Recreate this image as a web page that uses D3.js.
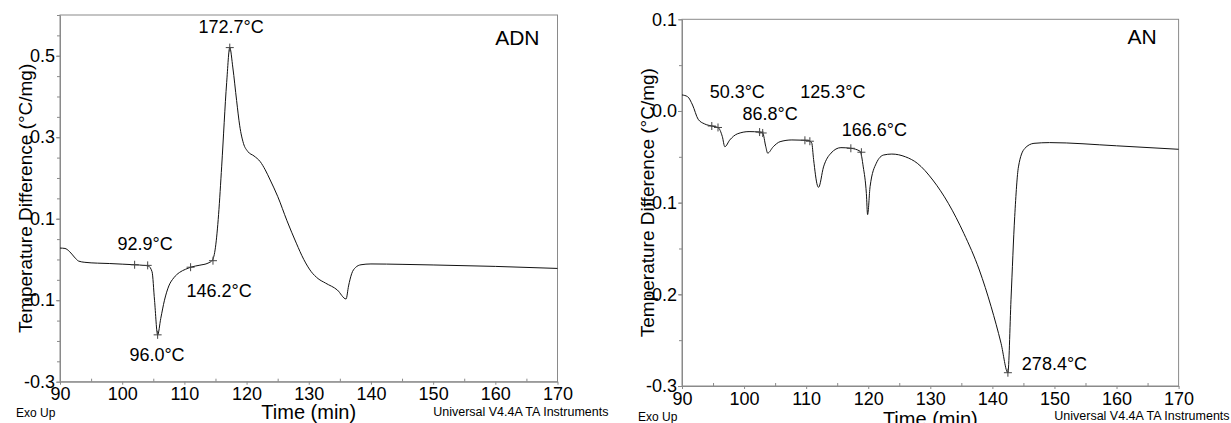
<!DOCTYPE html>
<html>
<head>
<meta charset="utf-8">
<script src="https://cdn.jsdelivr.net/npm/d3@7"></script>
<style>
  body { margin: 0; background: #fff; }
  text { font-family: "Liberation Sans", Arial, sans-serif; fill: #000; }
</style>
</head>
<body>
<script>
// time axis (min)
var timeTicks = [90, 100, 110, 120, 130, 140, 150, 160, 170];
var timeMinor = [95, 105, 115, 125, 135, 145, 155, 165];

// ADN curve
var adnTime = [90, 90.8, 91.5, 92.3, 93, 94, 96, 98, 100, 102, 103.5, 104.2, 104.8, 105.2, 105.7,
  106.2, 106.8, 107.5, 108.3, 109.2, 110.2, 111, 112.5, 113.8, 114.5, 115, 115.5, 116, 116.8, 117.3,
  117.8, 118.4, 118.9, 119.5, 120.2, 121.2, 122.2, 123, 123.8, 125, 126.5, 128, 129.2, 130.4, 131.5,
  132.7, 134.6, 136, 136.4, 136.9, 137.5, 138.4, 140, 145, 150, 160, 170];
var adnDiff = [0.028, 0.027, 0.02, 0.006, -0.004, -0.007, -0.009, -0.010, -0.0115, -0.013, -0.0145, -0.016, -0.030, -0.10, -0.185,
  -0.145, -0.10, -0.065, -0.045, -0.032, -0.024, -0.019, -0.014, -0.009, -0.002, 0.03, 0.11, 0.229, 0.434, 0.52,
  0.47, 0.39, 0.328, 0.285, 0.265, 0.254, 0.24, 0.22, 0.195, 0.155, 0.095, 0.04, 0.0, -0.03, -0.047,
  -0.058, -0.075, -0.097, -0.065, -0.035, -0.02, -0.013, -0.011, -0.012, -0.0135, -0.017, -0.022];
var adnMarkTime = [102, 104.1, 105.7, 111, 114.6, 117.3];
var adnMarkDiff = [-0.013, -0.0145, -0.185, -0.019, -0.003, 0.52];
var adnLabels = ["172.7°C", "92.9°C", "146.2°C", "96.0°C"];
var adnLabelTime = [117.5, 103.7, 115.6, 105.6];
var adnLabelDiff = [0.556, 0.023, -0.092, -0.249];
var adnTicks = [0.5, 0.3, 0.1, -0.1, -0.3];

// AN curve
var anTime = [90, 90.9, 91.7, 92.6, 93.6, 94.8, 95.8, 96.5, 96.9, 97.7, 98.9, 100.8, 102.5, 103, 103.5,
  103.8, 104.7, 105.8, 107.7, 110.3, 110.9, 111.2, 111.8, 112, 112.8, 114, 115.6, 117.2, 118.7, 119.2,
  119.7, 119.9, 120.3, 121.3, 122.5, 123.8, 126, 127.9, 130.4, 132.9, 135.4, 137.9, 139.8, 141.4, 142.5,
  143, 143.6, 144.2, 145.2, 146.7, 149.2, 160, 170];
var anDiff = [0.0175, 0.0156, 0.0065, -0.009, -0.014, -0.0164, -0.018, -0.028, -0.039, -0.0316, -0.025, -0.0225, -0.023, -0.024, -0.039,
  -0.046, -0.039, -0.0335, -0.0316, -0.032, -0.035, -0.053, -0.081, -0.0833, -0.061, -0.046, -0.040, -0.0407, -0.044, -0.061,
  -0.090, -0.113, -0.0825, -0.057, -0.048, -0.047, -0.050, -0.057, -0.0753, -0.1007, -0.1335, -0.1735, -0.2135, -0.2535, -0.2855,
  -0.206, -0.115, -0.061, -0.041, -0.0353, -0.0345, -0.038, -0.0418];
var anMarkTime = [94.8, 95.8, 102.5, 103, 109.8, 110.6, 117.2, 118.9, 142.5];
var anMarkDiff = [-0.0164, -0.018, -0.023, -0.024, -0.032, -0.033, -0.0407, -0.045, -0.2855];
var anLabels = ["50.3°C", "86.8°C", "125.3°C", "166.6°C"];
var anLabelTime = [98.9, 104.2, 114.3, 121];
var anLabelDiff = [0.0141, -0.0099, 0.0141, -0.0273];
var anTicks = [0.1, 0.0, -0.1, -0.2, -0.3];

var W = 1231, H = 423;
var axisGray = "#8a8a8a";

var svg = d3.select("body").append("svg")
  .attr("width", W)
  .attr("height", H);

function drawPanel(p) {
  var x = d3.scaleLinear().domain([90, 170]).range([p.left, p.right]);
  var y = d3.scaleLinear().domain(p.yDomain).range([p.bottom, p.top]);
  var g = svg.append("g");

  // frame
  g.append("rect")
    .attr("x", p.left).attr("y", p.top)
    .attr("width", p.right - p.left).attr("height", p.bottom - p.top)
    .attr("fill", "none").attr("stroke", axisGray);

  // minor ticks
  var minorY = d3.range(Math.round(p.yDomain[0] * 20), Math.round(p.yDomain[1] * 20) + 1)
    .map(function(d) { return d / 20; });
  g.append("g")
    .attr("transform", "translate(" + p.left + ",0)")
    .call(d3.axisLeft(y).tickValues(minorY).tickSize(3).tickFormat(""))
    .call(function(a) { a.select(".domain").remove(); a.selectAll("line").attr("stroke", axisGray); });
  g.append("g")
    .attr("transform", "translate(0," + p.bottom + ")")
    .call(d3.axisTop(x).tickValues(timeMinor).tickSize(3).tickFormat(""))
    .call(function(a) { a.select(".domain").remove(); a.selectAll("line").attr("stroke", axisGray); });

  // major axes
  var xa = g.append("g")
    .attr("transform", "translate(0," + p.bottom + ")")
    .call(d3.axisBottom(x).tickValues(timeTicks).tickSize(3).tickSizeOuter(0).tickPadding(3));
  var ya = g.append("g")
    .attr("transform", "translate(" + p.left + ",0)")
    .call(d3.axisLeft(y).tickValues(p.yTicks).tickSize(4).tickSizeOuter(0).tickPadding(1)
      .tickFormat(function(d) { return d.toFixed(1); }));
  [xa, ya].forEach(function(a) {
    a.attr("font-family", null).attr("font-size", null);
    a.select(".domain").attr("stroke", axisGray);
    a.selectAll("line").attr("stroke", axisGray);
    a.selectAll("text").style("font-size", "18px").attr("fill", "#000");
  });

  // curve
  var line = d3.line()
    .x(function(d, i) { return x(p.time[i]); })
    .y(function(d, i) { return y(p.diff[i]); })
    .curve(d3.curveMonotoneX);
  g.append("path")
    .datum(p.diff)
    .attr("d", line)
    .attr("fill", "none")
    .attr("stroke", "#111")
    .attr("stroke-width", 1);

  // markers
  var mk = g.selectAll(".mk").data(p.markTime).enter().append("g")
    .attr("transform", function(d, i) { return "translate(" + x(d) + "," + y(p.markDiff[i]) + ")"; });
  mk.append("path").attr("d", "M-4,0H4M0,-4V4").attr("stroke", "#444").attr("stroke-width", 1);

  // peak labels
  g.selectAll(".lab").data(p.labels).enter().append("text")
    .attr("x", function(d, i) { return x(p.labelTime[i]); })
    .attr("y", function(d, i) { return y(p.labelDiff[i]); })
    .attr("text-anchor", "middle")
    .style("font-size", "18px")
    .text(function(d) { return d; });

  // sample name
  g.append("text")
    .attr("x", p.right - p.nameDx).attr("y", p.top + p.nameDy)
    .attr("text-anchor", "end")
    .style("font-size", "21px")
    .text(p.name);

  // axis titles
  g.append("text")
    .attr("transform", "translate(" + (p.left - 28) + "," + ((p.top + p.bottom) / 2) + ") rotate(-90)")
    .attr("text-anchor", "middle")
    .style("font-size", "19px")
    .text("Temperature Difference (°C/mg)");
  g.append("text")
    .attr("x", (p.left + p.right) / 2 + 0).attr("y", p.bottom + p.titleDy)
    .attr("text-anchor", "middle")
    .style("font-size", "20px")
    .text("Time (min)");
  g.append("text")
    .attr("x", p.left - 44).attr("y", p.bottom + p.exoDy)
    .style("font-size", "12px")
    .text("Exo Up");
  g.append("text")
    .attr("x", p.right + 51).attr("y", p.bottom + 34)
    .attr("text-anchor", "end")
    .style("font-size", "12.5px")
    .text("Universal V4.4A TA Instruments");
}

drawPanel({
  left: 60, right: 557.5, top: 15, bottom: 381.7,
  yDomain: [-0.3, 0.6], yTicks: adnTicks,
  time: adnTime, diff: adnDiff,
  markTime: adnMarkTime, markDiff: adnMarkDiff,
  labels: adnLabels, labelTime: adnLabelTime, labelDiff: adnLabelDiff,
  name: "ADN", nameDx: 18, nameDy: 30, titleDy: 37, exoDy: 35
});

drawPanel({
  left: 682, right: 1178.6, top: 19.3, bottom: 386,
  yDomain: [-0.3, 0.1], yTicks: anTicks,
  time: anTime, diff: anDiff,
  markTime: anMarkTime, markDiff: anMarkDiff,
  labels: anLabels, labelTime: anLabelTime, labelDiff: anLabelDiff,
  name: "AN", nameDx: 22, nameDy: 25, titleDy: 40, exoDy: 35
});

// AN low peak label sits to the right of the marker
svg.append("text")
  .attr("x", d3.scaleLinear().domain([90, 170]).range([682, 1178.6])(144.75))
  .attr("y", d3.scaleLinear().domain([-0.3, 0.1]).range([386, 19.3])(-0.2826))
  .style("font-size", "18px")
  .text("278.4°C");
</script>
</body>
</html>
